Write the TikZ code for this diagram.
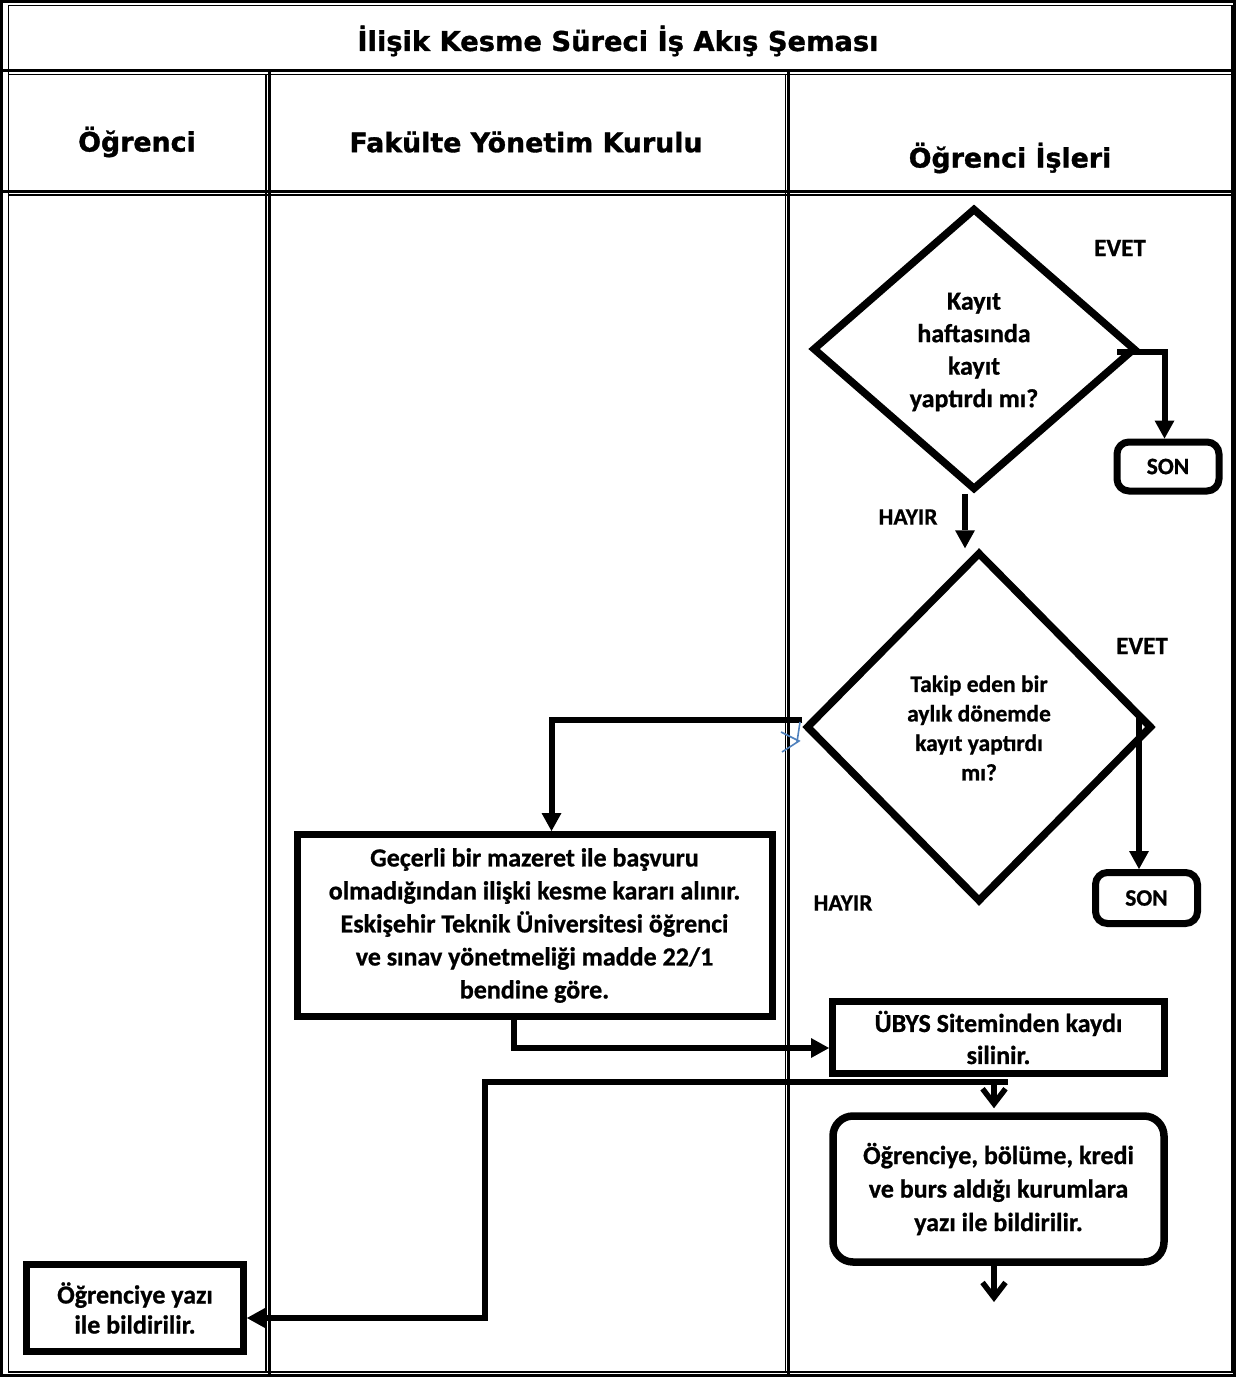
\documentclass[tikz,border=0pt]{standalone}
\usepackage{fontspec}
\setmainfont{Carlito}[BoldFeatures={FakeBold=0.8}]
\newfontfamily\headfont{DejaVu Sans}[BoldFeatures={FakeBold=1.2}]
\usetikzlibrary{shapes.geometric,arrows.meta,calc}
\newcommand\fsbody{\bfseries\fontsize{26}{33}\selectfont}
\newcommand\fsdone{\bfseries\fontsize{26}{32.5}\selectfont}
\newcommand\fssmall{\bfseries\fontsize{23.5}{29.5}\selectfont}
\newcommand\fsevet{\bfseries\fontsize{25}{30}\selectfont}
\newcommand\fshead{\headfont\bfseries\fontsize{26.8}{32}\selectfont}
\newcommand\fstitle{\headfont\bfseries\fontsize{27.3}{32}\selectfont}
\definecolor{artblue}{HTML}{4F81BD}
\tikzset{
  thickrule/.style={line width=3pt},
  thinrule/.style={line width=1.2pt},
  headtext/.style={font=\fshead, inner sep=0pt},
  procbox/.style={draw, line width=7pt, inner sep=0pt, align=center, font=\fsbody},
  decision/.style={draw, diamond, line width=7.5pt, inner sep=0pt},
  dectext/.style={align=center, inner sep=0pt},
  conn/.style={line width=6pt, -{Triangle[length=18pt,width=20pt,line width=0pt]}},
  chev/.style={line width=5.5pt, -{Straight Barb[length=15pt,width=23pt]}},
  lblsmall/.style={font=\fssmall, inner sep=0pt},
  lblevet/.style={font=\fsevet, inner sep=0pt},
}
\begin{document}
\begin{tikzpicture}[x=1pt,y=-1pt]
\useasboundingbox (0,0) rectangle (1236,1378);
\fill[white] (0,0) rectangle (1236,1378);
% ---- table frame ----
\draw[thickrule] (1.5,1.5) rectangle (1234.5,1375.5);
\draw[thinrule] (8.5,5.5) rectangle (1232,1372);
\draw[thickrule] (1.5,70.5) -- (1234.5,70.5);
\draw[thinrule] (8.5,74.5) -- (1232,74.5);
\draw[thickrule] (1.5,191.5) -- (1234.5,191.5);
\draw[thinrule] (8.5,195) -- (1232,195);
\draw[thinrule] (266,74.5) -- (266,1372);
\draw[thickrule] (269.5,70.5) -- (269.5,1375.5);
\draw[thinrule] (785.5,74.5) -- (785.5,1372);
\draw[thickrule] (788.5,70.5) -- (788.5,1375.5);
% ---- headers ----
\node[headtext, font=\fstitle] (title) at (618,41) {İlişik Kesme Süreci İş Akış Şeması};
\node[headtext] (h1) at (137,142) {Öğrenci};
\node[headtext] (h2) at (526,142) {Fakülte Yönetim Kurulu};
\node[headtext] (h3) at (1010,158) {Öğrenci İşleri};
% ---- decisions ----
\node[decision, minimum width=323pt, minimum height=282pt] (d1) at (974,349) {};
\node[dectext, font=\fsdone] (d1t) at (974,352) {Kayıt\\haftasında\\kayıt\\yaptırdı mı?};
\node[decision, minimum width=346pt, minimum height=350pt] (d2) at (979,727) {};
\node[dectext, font=\fssmall] (d2t) at (979,728) {Takip eden bir\\aylık dönemde\\kayıt yaptırdı\\mı?};
% ---- terminals ----
\node[procbox, rounded corners=12pt, minimum width=102pt, minimum height=49pt, font=\fssmall] (son1) at (1168,466.5) {SON};
\node[procbox, rounded corners=12pt, minimum width=102pt, minimum height=51pt, font=\fssmall] (son2) at (1146.5,898) {SON};
% ---- process boxes ----
\node[procbox, minimum width=475pt, minimum height=182pt] (gec) at (534.5,925.5) {Geçerli bir mazeret ile başvuru\\olmadığından ilişki kesme kararı alınır.\\Eskişehir Teknik Üniversitesi öğrenci\\ve sınav yönetmeliği madde 22/1\\bendine göre.};
\node[procbox, minimum width=332pt, minimum height=72pt, font=\bfseries\fontsize{26}{32}\selectfont] (ubys) at (998.5,1037.5) {ÜBYS Siteminden kaydı\\silinir.};
\node[procbox, line width=7.5pt, rounded corners=20pt, minimum width=331pt, minimum height=146pt, font=\bfseries\fontsize{26}{33.5}\selectfont] (rb) at (998.5,1189) {Öğrenciye, bölüme, kredi\\ve burs aldığı kurumlara\\yazı ile bildirilir.};
\node[procbox, minimum width=217pt, minimum height=87pt, font=\bfseries\fontsize{26}{30}\selectfont] (ob) at (135,1308) {Öğrenciye yazı\\ile bildirilir.};
% ---- labels ----
\node[lblevet] (evet1) at (1120,248) {EVET};
\node[lblsmall] (hayir1) at (908,517) {HAYIR};
\node[lblevet] (evet2) at (1142,646) {EVET};
\node[lblsmall] (hayir2) at (843,903) {HAYIR};
% ---- connectors ----
\coordinate (e1) at (1117,351.5);
\draw[conn] (e1) -| ([xshift=-3.5pt]son1.north);
\draw[conn] ([xshift=-9pt]d1.south) -- ([xshift=-9pt]d1.south |- d2.north);
\coordinate (e2) at (1139,718);
\draw[conn] (e2) -- (e2 |- son2.north);
\draw[conn] (d2.west |- 0,719.5) -| ([xshift=17pt]gec.north);
\draw[conn] ([xshift=-21pt]gec.south) |- ([yshift=-10.5pt]ubys.west);
\draw[chev] ([xshift=-4.5pt,yshift=-4pt]ubys.south) -- ([xshift=-4.5pt,yshift=4pt]rb.north);
\coordinate (j1) at (1008,1081.5);
\draw[conn] (j1) -- (484.5,1081.5) -- (484.5,1318) -- ([yshift=-10pt]ob.east);
\coordinate (endarrow) at (994,1302);
\draw[chev] ([xshift=-4.5pt]rb.south) -- (endarrow);
% ---- blue artifact near diamond 2 ----
\draw[artblue, line width=1.6pt] (781,732) -- (799,741) -- (782,752);
\draw[artblue, line width=1.6pt] (800,722) -- (797,742);
\end{tikzpicture}
\end{document}
